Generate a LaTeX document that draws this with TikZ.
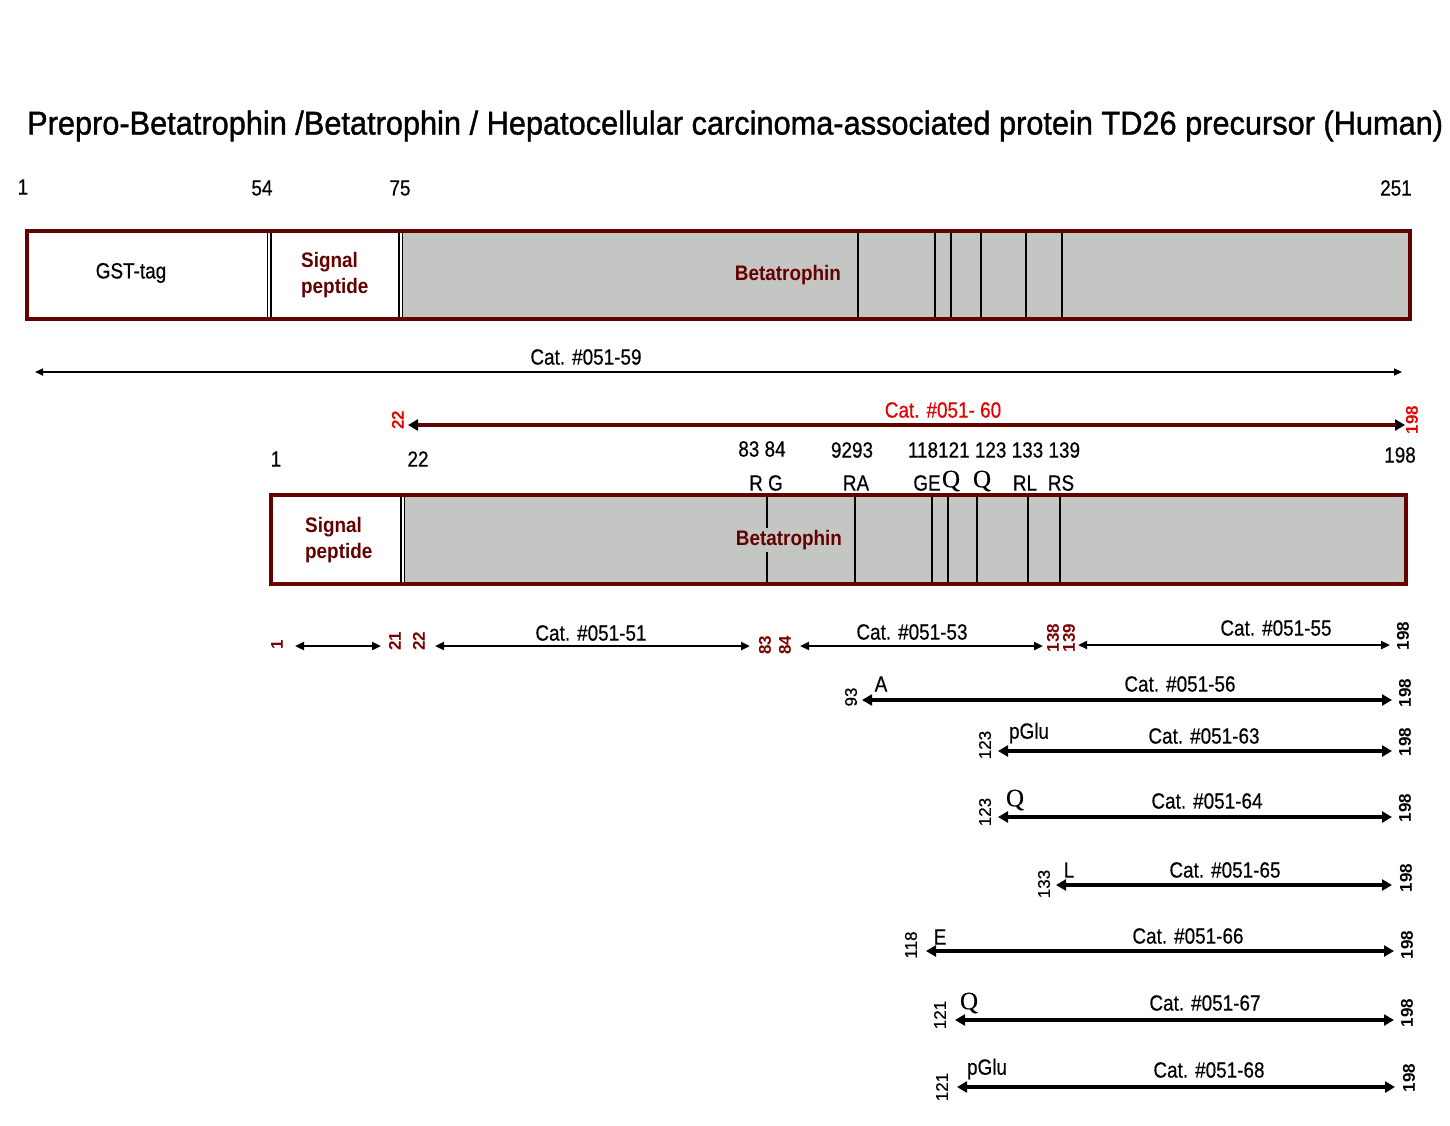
\documentclass[tikz,border=0pt]{standalone}
\usepackage{fontspec}
\setmainfont{Liberation Sans}
\newfontfamily\fbA[FakeBold=1.2]{Liberation Sans}
\newfontfamily\fbB[FakeBold=0.5]{Liberation Sans}
\newfontfamily\serifQ[FakeBold=0.4]{Liberation Serif}
\usetikzlibrary{arrows.meta}
\definecolor{dred}{RGB}{100,0,0}
\definecolor{tred}{RGB}{125,0,0}
\definecolor{bred}{RGB}{228,0,0}
\definecolor{barfill}{RGB}{196,198,195}
\begin{document}
\begin{tikzpicture}[x=1pt,y=-1pt,
  txt/.style={font=\fbB\fontsize{22}{24}\selectfont, xscale=0.86, inner sep=0pt},
  qtxt/.style={font=\serifQ\fontsize{25}{26}\selectfont, inner sep=0pt},
  inbold/.style={font=\bfseries\fontsize{21}{26}\selectfont, text=dred, xscale=0.9, inner sep=0pt, align=left},
  rnum/.style={font=\fbB\fontsize{17}{19}\selectfont, rotate=90, inner sep=0pt},
  rnumb/.style={font=\bfseries\fontsize{17}{19}\selectfont, rotate=90, inner sep=0pt},
  barframe/.style={draw=dred, line width=4.5pt},
  sepline/.style={draw=black, line width=1.5pt},
  featline/.style={draw=black, line width=2.6pt},
  arrA/.style={line width=1.6pt, {Triangle[length=8pt,width=7pt]}-{Triangle[length=8pt,width=7pt]}},
  arrB/.style={line width=2.2pt, {Triangle[length=9pt,width=8pt]}-{Triangle[length=9pt,width=8pt]}},
  arrC/.style={line width=4pt, {Triangle[length=10pt,width=11pt]}-{Triangle[length=10pt,width=11pt]}},
  arrR/.style={draw=dred, line width=4.5pt, {Triangle[length=10pt,width=11pt,color=black]}-{Triangle[length=10pt,width=11pt,color=black]}}
]
\useasboundingbox[fill=white] (0,0) rectangle (1450,1125);

% title
\node[anchor=west, inner sep=0pt, font=\fbA\fontsize{33}{36}\selectfont] (title) at (27,126)
  {\resizebox{1416pt}{\height}{Prepro-Betatrophin /Betatrophin / Hepatocellular carcinoma-associated protein TD26 precursor (Human)}};

% top scale numbers
\node[txt] (n1) at (23,187) {1};
\node[txt] (n54) at (262,188) {54};
\node[txt] (n75) at (400,188) {75};
\node[txt] (n251) at (1396,188) {251};

% bar 1
\fill[white] (27,231) rectangle (403,319);
\fill[barfill] (403,231) rectangle (1410,319);
\foreach \x in {267.5,271,399,402.5} \draw[sepline] (\x,231) -- (\x,319);
\foreach \x in {858,935,951,981,1026,1062} \draw[featline] (\x,231) -- (\x,319);
\draw[barframe] (27,231) rectangle (1410,319);
\node[txt] (gst) at (131,273) {GST-tag};
\node[inbold, anchor=west] (sp1) at (301,275) {Signal\\peptide};
\node[inbold] (bt1) at (788,275) {Betatrophin};

% Cat 59
\coordinate (a59l) at (35,372);
\coordinate (a59r) at (1402,372);
\draw[arrA] (a59l) -- (a59r);
\node[txt] (c59) at (586,357) {Cat. \#051-59};

% Cat 60 (red)
\coordinate (a60l) at (408,425);
\coordinate (a60r) at (1405,425);
\draw[arrR] (a60l) -- (a60r);
\node[txt, text=bred] (c60) at (943,410) {Cat. \#051- 60};
\node[rnumb, text=bred] (r60a) at (398,420) {22};
\node[rnumb, text=bred] (r60b) at (1412,420) {198};

% second scale numbers
\node[txt] (m1) at (276,459) {1};
\node[txt] (m22) at (418,459) {22};
\node[txt] (m8384) at (762,449) {83 84};
\node[txt] (m9293) at (852,450) {9293};
\node[txt] (mmid) at (994,450) {118121 123 133 139};
\node[txt] (m198) at (1400,455) {198};

% residue letters
\node[txt] (lRG) at (766,483) {R G};
\node[txt] (lRA) at (856,483) {RA};
\node[txt] (lGE) at (927,483) {GE};
\node[qtxt] (lQ1) at (951,481) {Q};
\node[qtxt] (lQ2) at (982,481) {Q};
\node[txt] (lRL) at (1025,483) {RL};
\node[txt] (lRS) at (1061,483) {RS};

% bar 2
\fill[white] (271,495) rectangle (405,584);
\fill[barfill] (405,495) rectangle (1406,584);
\foreach \x in {401,404.5} \draw[sepline] (\x,495) -- (\x,584);
\foreach \x in {767,855,932,948,977,1028,1060} \draw[featline] (\x,495) -- (\x,584);
\draw[barframe] (271,495) rectangle (1406,584);
\node[inbold, anchor=west] (sp2) at (305,540) {Signal\\peptide};
\node[inbold, fill=barfill, inner ysep=2pt] (bt2) at (789,540) {Betatrophin};

% row: 51 / 53 / 55
\node[rnumb, text=tred] (b1) at (277,645) {1};
\coordinate (s1l) at (295,646); \coordinate (s1r) at (381,646);
\draw[arrB] (s1l) -- (s1r);
\node[rnumb, text=tred] (b21) at (395,641) {21};
\node[rnumb, text=tred] (b22) at (419,641) {22};
\coordinate (a51l) at (435,646); \coordinate (a51r) at (750,646);
\draw[arrB] (a51l) -- (a51r);
\node[txt] (c51) at (591,633) {Cat. \#051-51};
\node[rnumb, text=tred] (b83) at (765,645) {83};
\node[rnumb, text=tred] (b84) at (785,645) {84};
\coordinate (a53l) at (800,646); \coordinate (a53r) at (1043,646);
\draw[arrB] (a53l) -- (a53r);
\node[txt] (c53) at (912,632) {Cat. \#051-53};
\node[rnumb, text=tred] (b138) at (1053,638) {138};
\node[rnumb, text=tred] (b139) at (1069,638) {139};
\coordinate (a55l) at (1078,645); \coordinate (a55r) at (1390,645);
\draw[arrB] (a55l) -- (a55r);
\node[txt] (c55) at (1276,628) {Cat. \#051-55};
\node[rnumb] (e55) at (1403,636) {198};

% row 56
\coordinate (a56l) at (862,700); \coordinate (a56r) at (1392,700);
\draw[arrC] (a56l) -- (a56r);
\node[rnum] (s56) at (851,697) {93};
\node[txt] (r56) at (881,684) {A};
\node[txt] (c56) at (1180,684) {Cat. \#051-56};
\node[rnumb] (e56) at (1405,693) {198};

% row 63
\coordinate (a63l) at (998,751); \coordinate (a63r) at (1392,751);
\draw[arrC] (a63l) -- (a63r);
\node[rnum] (s63) at (985,745) {123};
\node[txt] (r63) at (1029,733) {pGlu};
\node[txt] (c63) at (1204,736) {Cat. \#051-63};
\node[rnumb] (e63) at (1405,742) {198};

% row 64
\coordinate (a64l) at (998,817); \coordinate (a64r) at (1392,817);
\draw[arrC] (a64l) -- (a64r);
\node[rnum] (s64) at (985,812) {123};
\node[qtxt] (r64) at (1015,800) {Q};
\node[txt] (c64) at (1207,801) {Cat. \#051-64};
\node[rnumb] (e64) at (1405,808) {198};

% row 65
\coordinate (a65l) at (1056,885); \coordinate (a65r) at (1392,885);
\draw[arrC] (a65l) -- (a65r);
\node[rnum] (s65) at (1044,884) {133};
\node[txt] (r65) at (1069,870) {L};
\node[txt] (c65) at (1225,870) {Cat. \#051-65};
\node[rnumb] (e65) at (1406,878) {198};

% row 66
\coordinate (a66l) at (926,951); \coordinate (a66r) at (1394,951);
\draw[arrC] (a66l) -- (a66r);
\node[rnum] (s66) at (911,945) {118};
\node[txt] (r66) at (940,937) {E};
\node[txt] (c66) at (1188,936) {Cat. \#051-66};
\node[rnumb] (e66) at (1407,945) {198};

% row 67
\coordinate (a67l) at (955,1020); \coordinate (a67r) at (1394,1020);
\draw[arrC] (a67l) -- (a67r);
\node[rnum] (s67) at (940,1015) {121};
\node[qtxt] (r67) at (969,1003) {Q};
\node[txt] (c67) at (1205,1003) {Cat. \#051-67};
\node[rnumb] (e67) at (1407,1013) {198};

% row 68
\coordinate (a68l) at (957,1087); \coordinate (a68r) at (1395,1087);
\draw[arrC] (a68l) -- (a68r);
\node[rnum] (s68) at (942,1087) {121};
\node[txt] (r68) at (987,1069) {pGlu};
\node[txt] (c68) at (1209,1070) {Cat. \#051-68};
\node[rnumb] (e68) at (1409,1078) {198};
\end{tikzpicture}
\end{document}
